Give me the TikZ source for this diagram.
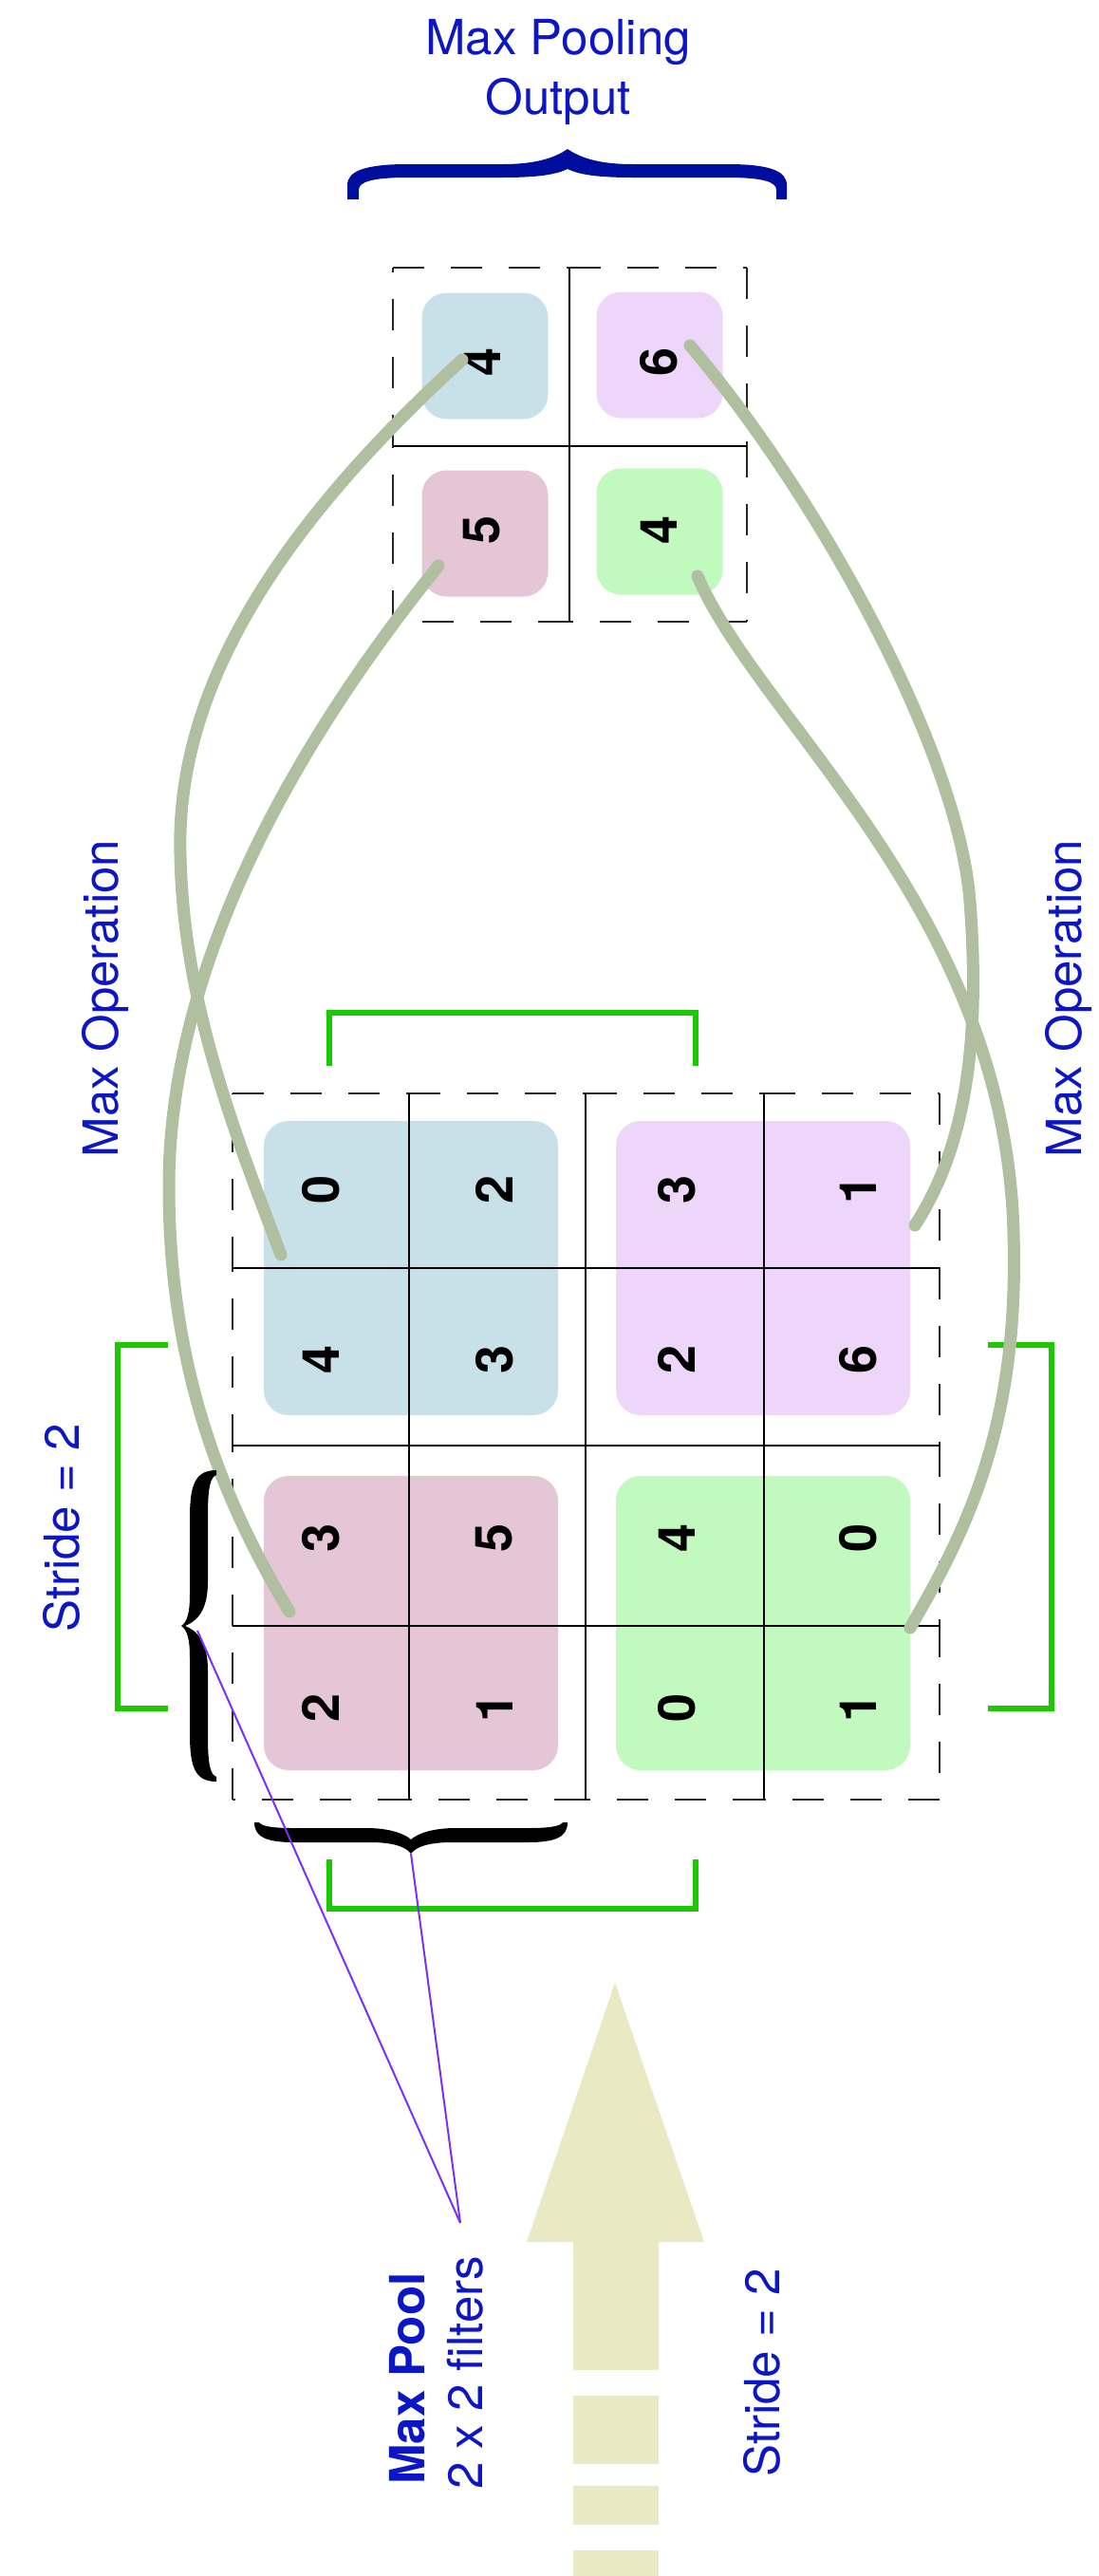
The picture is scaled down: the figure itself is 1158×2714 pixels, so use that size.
\documentclass[tikz,border=0pt]{standalone}
\usepackage{fontspec}
\setmainfont{TeX Gyre Heros}

\definecolor{labelblue}{RGB}{12,22,196}
\definecolor{bracenavy}{RGB}{0,14,158}
\definecolor{boxblue}{RGB}{200,224,232}
\definecolor{boxpurple}{RGB}{238,214,250}
\definecolor{boxpink}{RGB}{228,198,214}
\definecolor{boxgreen}{RGB}{194,249,190}
\definecolor{linkgreen}{RGB}{176,191,160}
\definecolor{brightgreen}{RGB}{30,200,0}
\definecolor{violetline}{RGB}{122,48,250}
\definecolor{arrowbeige}{RGB}{233,233,196}

\begin{document}
\begin{tikzpicture}[x=1pt,y=-1pt,
  lbl/.style={text=labelblue, font=\fontsize{51}{62}\selectfont, inner sep=0pt},
  digit/.style={font=\fontsize{54}{60}\selectfont\bfseries, rotate=90, inner sep=0pt},
  fillbox/.style={rounded corners=26pt, inner sep=0pt, draw=none},
  perim/.style={line width=2.6pt, draw=black!85, dash pattern=on 33pt off 28pt},
  gridline/.style={line width=2pt, draw=black},
  maxlink/.style={line width=13pt, draw=linkgreen, line cap=round},
  bracket/.style={line width=6pt, draw=brightgreen},
  pointer/.style={line width=2pt, draw=violetline}]

\useasboundingbox (0,0) rectangle (1158,2714);

% ---------- stride arrow ----------
\fill[arrowbeige] (648,2089) -- (742,2362) -- (694,2362) -- (694,2497)
  -- (604,2497) -- (604,2362) -- (555,2362) -- cycle;
\fill[arrowbeige] (604,2524) rectangle (694,2596);
\fill[arrowbeige] (604,2619) rectangle (694,2660);
\fill[arrowbeige] (604,2687) rectangle (694,2714);

% ---------- green stride brackets ----------
\draw[bracket] (347,1123) -- (347,1067) -- (733,1067) -- (733,1123);
\draw[bracket] (177,1417) -- (124,1417) -- (124,1800) -- (177,1800);
\draw[bracket] (1041,1417) -- (1108,1417) -- (1108,1800) -- (1041,1800);
\draw[bracket] (347,1959) -- (347,2011) -- (733,2011) -- (733,1959);

% ---------- input feature map: 2x2 regions ----------
\node[fillbox, fill=boxblue,   minimum width=310pt, minimum height=310pt] (inBlue)   at (433,1336) {};
\node[fillbox, fill=boxpurple, minimum width=310pt, minimum height=310pt] (inPurple) at (804,1336) {};
\node[fillbox, fill=boxpink,   minimum width=310pt, minimum height=310pt] (inPink)   at (433,1710) {};
\node[fillbox, fill=boxgreen,  minimum width=310pt, minimum height=310pt] (inGreen)  at (804,1710) {};

% dashed outline, one stroke per cell side
\foreach \a/\b in {245/431, 431/617, 617/805, 805/990} {
  \draw[perim] (\a,1152) -- (\b,1152);
  \draw[perim] (\b,1896) -- (\a,1896);
}
\foreach \a/\b in {1152/1336, 1336/1523, 1523/1713, 1713/1896} {
  \draw[perim] (990,\a) -- (990,\b);
  \draw[perim] (245,\b) -- (245,\a);
}
\foreach \x in {431,617,805} \draw[gridline] (\x,1152) -- (\x,1896);
\foreach \y in {1336,1523,1713} \draw[gridline] (245,\y) -- (990,\y);

% cell values
\node[digit] (a11) at (338,1253) {0};
\node[digit] (a12) at (521,1253) {2};
\node[digit] (a13) at (713,1253) {3};
\node[digit] (a14) at (904,1253) {1};
\node[digit] (a21) at (338,1432) {4};
\node[digit] (a22) at (521,1432) {3};
\node[digit] (a23) at (713,1432) {2};
\node[digit] (a24) at (904,1432) {6};
\node[digit] (a31) at (338,1620) {3};
\node[digit] (a32) at (521,1620) {5};
\node[digit] (a33) at (713,1620) {4};
\node[digit] (a34) at (904,1620) {0};
\node[digit] (a41) at (338,1799) {2};
\node[digit] (a42) at (521,1799) {1};
\node[digit] (a43) at (713,1799) {0};
\node[digit] (a44) at (904,1799) {1};

% ---------- pooled output ----------
\node[fillbox, fill=boxblue,   minimum width=133pt, minimum height=133pt] (outBlue)   at (511,375) {};
\node[fillbox, fill=boxpurple, minimum width=133pt, minimum height=133pt] (outPurple) at (695,374) {};
\node[fillbox, fill=boxpink,   minimum width=133pt, minimum height=133pt] (outPink)   at (511,562) {};
\node[fillbox, fill=boxgreen,  minimum width=133pt, minimum height=133pt] (outGreen)  at (695,560) {};

\foreach \a/\b in {414/600, 600/787} {
  \draw[perim] (\a,282) -- (\b,282);
  \draw[perim] (\b,655) -- (\a,655);
}
\foreach \a/\b in {282/470, 470/655} {
  \draw[perim] (787,\a) -- (787,\b);
  \draw[perim] (414,\b) -- (414,\a);
}
\draw[gridline] (600,282) -- (600,655);
\draw[gridline] (414,470) -- (787,470);

\node[digit] (b11) at (508,381) {4};
\node[digit] (b12) at (694,381) {6};
\node[digit] (b21) at (508,558) {5};
\node[digit] (b22) at (694,558) {4};

% ---------- max-operation links ----------
\coordinate (o4)  at (487,379);
\coordinate (o6)  at (727,364);
\coordinate (o5)  at (462,596);
\coordinate (o4g) at (735,607);
\coordinate (i4)  at (296,1322);
\coordinate (i6)  at (964,1291);
\coordinate (i5)  at (305,1698);
\coordinate (i4g) at (959,1715);

\draw[maxlink] (o4) .. controls (300,550) and (185,720) .. (190,900)
  .. controls (193,1060) and (250,1200) .. (i4);
\draw[maxlink] (o5) .. controls (330,760) and (178,1000) .. (178,1250)
  .. controls (178,1450) and (240,1590) .. (i5);
\draw[maxlink] (o6) .. controls (860,520) and (1010,790) .. (1022,950)
  .. controls (1035,1120) and (1010,1220) .. (i6);
\draw[maxlink] (o4g) .. controls (800,760) and (1060,960) .. (1068,1300)
  .. controls (1074,1500) and (1020,1610) .. (i4g);

% ---------- braces ----------
% output brace
\fill[bracenavy] (366,210) -- (366,195) .. controls (366,180) and (385,173) .. (430,173)
  -- (530,173) .. controls (565,173) and (585,166) .. (598,157)
  .. controls (611,166) and (631,173) .. (666,173)
  -- (766,173) .. controls (811,173) and (829,180) .. (829,195)
  -- (829,210) -- (818,210) -- (818,200) .. controls (818,192) and (805,187) .. (766,187)
  -- (666,187) .. controls (630,187) and (610,184) .. (598,178)
  .. controls (586,184) and (566,187) .. (530,187)
  -- (430,187) .. controls (391,187) and (378,192) .. (378,200) -- (378,210) -- cycle;

% filter height brace
\fill[black] (228,1549) .. controls (205,1549) and (200,1565) .. (200,1600)
  -- (200,1680) .. controls (200,1700) and (197,1709) .. (191,1713)
  .. controls (197,1717) and (200,1726) .. (200,1746)
  -- (200,1826) .. controls (200,1861) and (205,1877) .. (228,1877)
  -- (228,1872) .. controls (222,1870) and (219,1860) .. (219,1830)
  -- (219,1760) .. controls (219,1735) and (212,1720) .. (195,1713)
  .. controls (212,1706) and (219,1691) .. (219,1666)
  -- (219,1596) .. controls (219,1566) and (222,1556) .. (228,1554) -- cycle;

% filter width brace
\fill[black] (268,1920) .. controls (268,1935) and (280,1941) .. (310,1941)
  -- (390,1941) .. controls (415,1941) and (428,1946) .. (433,1953)
  .. controls (438,1946) and (451,1941) .. (476,1941)
  -- (556,1941) .. controls (586,1941) and (598,1935) .. (598,1920)
  -- (593,1920) .. controls (590,1924) and (580,1926) .. (556,1926)
  -- (480,1926) .. controls (455,1926) and (440,1932) .. (433,1938)
  .. controls (426,1932) and (411,1926) .. (386,1926)
  -- (310,1926) .. controls (286,1926) and (276,1924) .. (273,1920) -- cycle;

% ---------- filter pointer lines ----------
\coordinate (poolpt) at (485,2342);
\coordinate (vtip) at (208,1718);
\coordinate (htip) at (433,1953);
\draw[pointer] (poolpt) -- (vtip);
\draw[pointer] (poolpt) -- (htip);

% ---------- labels ----------
\node[lbl, anchor=base] (titleA) at (588,58) {Max Pooling};
\node[lbl, anchor=base] (titleB) at (588,120) {Output};
\node[lbl, rotate=90] (opLeft)  at (111,1052) {Max Operation};
\node[lbl, rotate=90] (opRight) at (1126,1052) {Max Operation};
\node[lbl, rotate=90] (strideL) at (65,1610) {Stride = 2};
\node[lbl, rotate=90] (strideB) at (803,2500) {Stride = 2};
\node[lbl, rotate=90, anchor=base west, font=\fontsize{51}{62}\selectfont\bfseries] (poolA) at (447,2618) {Max Pool};
\node[lbl, rotate=90, anchor=base west] (poolB) at (508,2623) {2 x 2 filters};

\end{tikzpicture}
\end{document}
